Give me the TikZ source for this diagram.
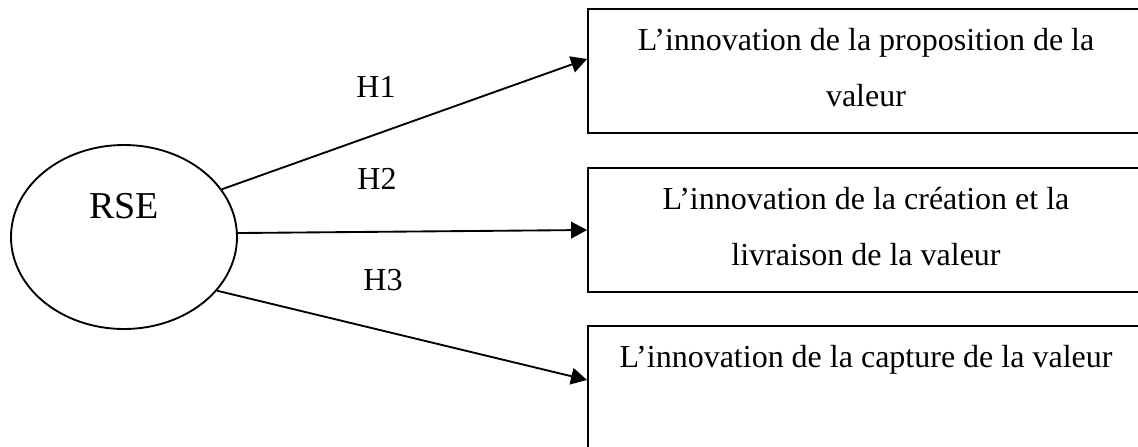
\documentclass[tikz,border=0pt]{standalone}
\usepackage{fontspec}
\setmainfont{Liberation Serif}
\usetikzlibrary{shapes.geometric,arrows.meta}
\begin{document}
\begin{tikzpicture}[x=0.75pt,y=-0.75pt,
  line width=1.4pt,
  oval/.style={draw, ellipse, inner sep=0pt, minimum width=169.5pt, minimum height=138pt},
  valbox/.style={draw, rectangle, inner sep=0pt, minimum width=417pt, minimum height=93pt},
  boxtext/.style={anchor=north, inner sep=0pt, align=center, font=\fontsize{24}{42}\selectfont, yshift=-14.25pt},
  hyp/.style={font=\fontsize{24}{28}\selectfont, inner sep=0pt},
  link/.style={-{Triangle[length=12pt,width=12.5pt]}}]
\clip (0,0) rectangle (1138,446);
\node[oval, label={[font=\fontsize{28.5}{32}\selectfont, inner sep=0pt, yshift=23.25pt]center:RSE}] (rse) at (124,237) {};
\node[valbox, label={[boxtext]north:{L’innovation de la proposition de la\\valeur}}] (b1) at (866,71) {};
\node[valbox, label={[boxtext]north:{L’innovation de la création et la\\livraison de la valeur}}] (b2) at (866,230) {};
\node[valbox, label={[boxtext]north:{L’innovation de la capture de la valeur}}] (b3) at (866,388) {};
\draw[link] (rse.26) -- ([yshift=9pt]b1.west);
\draw[link] (rse.2) -- (b2.west);
\draw[link] (rse.-30) -- ([yshift=6pt]b3.west);
\node[hyp] (h1) at (376,87) {H1};
\node[hyp] (h2) at (377,179) {H2};
\node[hyp] (h3) at (383,280) {H3};
\end{tikzpicture}
\end{document}
